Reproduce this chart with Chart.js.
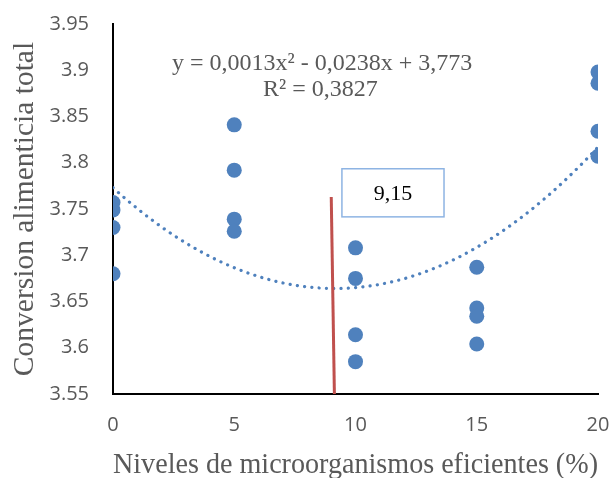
<!DOCTYPE html>
<html>
<head>
<meta charset="utf-8">
<script src="https://cdn.jsdelivr.net/npm/chart.js@4.4.0/dist/chart.umd.min.js"></script>
<style>
  html, body { margin: 0; padding: 0; background: #fff; }
  #wrap { width: 610px; height: 478px; }
</style>
</head>
<body>
<div id="wrap"><canvas id="c" width="610" height="478"></canvas></div>
<script>
// ---- data ----
const levels = [0, 5, 10, 15, 20];
const rep1 = [3.757, 3.841, 3.708, 3.687, 3.898];
const rep2 = [3.749, 3.792, 3.675, 3.643, 3.886];
const rep3 = [3.730, 3.739, 3.614, 3.634, 3.834];
const rep4 = [3.680, 3.726, 3.585, 3.604, 3.807];
const trendCoefs = [0.0013, -0.0238, 3.773]; // from the displayed equation
const optimumLineX = [9.0, 9.13];
const optimumLineY = [3.763, 3.55];
const yTicks = [3.55, 3.6, 3.65, 3.7, 3.75, 3.8, 3.85, 3.9, 3.95];
const xTicks = [0, 5, 10, 15, 20];
const eqText = ['y = 0,0013x² - 0,0238x + 3,773', 'R² = 0,3827'];
const boxText = '9,15';

// ---- build datasets ----
const points = [];
[rep1, rep2, rep3, rep4].forEach(r => r.forEach((v, i) => points.push({x: levels[i], y: v})));
const trend = [];
for (let x = 0; x <= 20.0001; x += 0.25) {
  trend.push({x: x, y: trendCoefs[0] * x * x + trendCoefs[1] * x + trendCoefs[2]});
}
const redLine = optimumLineX.map((x, i) => ({x: x, y: optimumLineY[i]}));

const grey = '#595959';
const blue = '#4F81BD';

const annot = {
  id: 'annot',
  afterDatasetsDraw(chart) {
    const {ctx, scales: {x, y}} = chart;
    ctx.save();
    // equation
    ctx.fillStyle = grey;
    ctx.font = '24px "Liberation Serif", "Times New Roman", serif';
    ctx.textAlign = 'center';
    ctx.textBaseline = 'middle';
    ctx.fillText(eqText[0], x.getPixelForValue(8.62), y.getPixelForValue(3.907));
    ctx.fillText(eqText[1], x.getPixelForValue(8.55), y.getPixelForValue(3.879));
    // box
    const bx1 = x.getPixelForValue(9.44), bx2 = x.getPixelForValue(13.65);
    const by1 = y.getPixelForValue(3.7935), by2 = y.getPixelForValue(3.7415);
    ctx.fillStyle = '#fff';
    ctx.fillRect(bx1, by1, bx2 - bx1, by2 - by1);
    ctx.strokeStyle = '#8EB4E3';
    ctx.lineWidth = 1.5;
    ctx.strokeRect(bx1, by1, bx2 - bx1, by2 - by1);
    ctx.fillStyle = '#000';
    ctx.font = '22px "Liberation Serif", "Times New Roman", serif';
    ctx.fillText(boxText, (bx1 + bx2) / 2, (by1 + by2) / 2 + 1);
    ctx.restore();
  }
};

new Chart(document.getElementById('c'), {
  type: 'scatter',
  data: {
    datasets: [
      {
        label: 'optimo',
        data: redLine,
        showLine: true,
        borderColor: '#C0504D',
        borderWidth: 3,
        pointRadius: 0,
        order: 1
      },
      {
        label: 'CA',
        data: points,
        backgroundColor: blue,
        borderWidth: 0,
        pointRadius: 7.5,
        order: 2
      },
      {
        label: 'trend',
        data: trend,
        showLine: true,
        borderColor: blue,
        borderWidth: 3.2,
        borderCapStyle: 'round',
        borderDash: [0.1, 7.2],
        pointRadius: 0,
        tension: 0,
        order: 3
      }
    ]
  },
  options: {
    responsive: false,
    animation: false,
    devicePixelRatio: 1,
    layout: { padding: { top: 24, right: 12, left: 0, bottom: 0 } },
    plugins: { legend: { display: false }, tooltip: { enabled: false } },
    scales: {
      x: {
        type: 'linear',
        min: 0, max: 20,
        afterBuildTicks: s => { s.ticks = xTicks.map(v => ({value: v})); },
        afterFit: s => { s.height = 84; s.paddingLeft = 0; s.paddingRight = 0; },
        grid: { display: false, drawTicks: false },
        border: { display: true, color: '#000', width: 2 },
        ticks: { padding: 19, color: grey, font: { family: '"Open Sans", sans-serif', size: 20 } },
        title: {
          display: true,
          text: 'Niveles de microorganismos eficientes (%)',
          color: grey,
          font: { family: '"Liberation Serif", "Times New Roman", serif', size: 29.5, lineHeight: 1 },
          padding: { top: 0, bottom: -2 }
        }
      },
      y: {
        type: 'linear',
        min: 3.55, max: 3.95,
        afterBuildTicks: s => { s.ticks = yTicks.map(v => ({value: v})); },
        afterFit: s => { s.width = 113; s.paddingTop = 0; s.paddingBottom = 0; },
        grid: { display: false, drawTicks: false },
        border: { display: true, color: '#000', width: 2 },
        ticks: {
          padding: 24, color: grey,
          font: { family: '"Open Sans", sans-serif', size: 20 },
          callback: v => String(+v.toFixed(2))
        },
        title: {
          display: true,
          text: 'Conversion alimenticia total',
          color: grey,
          font: { family: '"Liberation Serif", "Times New Roman", serif', size: 29.5, lineHeight: 1 },
          padding: { top: 10, bottom: 0 }
        }
      }
    }
  },
  plugins: [annot]
});
</script>
</body>
</html>
